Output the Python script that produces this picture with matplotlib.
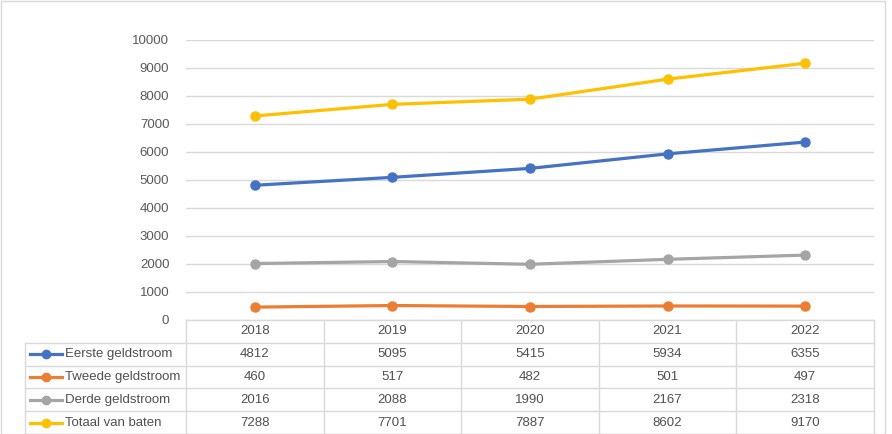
import matplotlib
matplotlib.use("Agg")
import matplotlib.pyplot as plt
from matplotlib.lines import Line2D
from matplotlib.patches import Rectangle

years = ["2018", "2019", "2020", "2021", "2022"]
series_names = ["Eerste geldstroom", "Tweede geldstroom", "Derde geldstroom", "Totaal van baten"]
eerste = [4812, 5095, 5415, 5934, 6355]
tweede = [460, 517, 482, 501, 497]
derde = [2016, 2088, 1990, 2167, 2318]
totaal = [7288, 7701, 7887, 8602, 9170]
colors = ["#4472C4", "#ED7D31", "#A5A5A5", "#FFC000"]
yticks = list(range(0, 10001, 1000))

all_series = [eerste, tweede, derde, totaal]

plt.rcParams['font.family'] = ['Liberation Sans', 'DejaVu Sans']
W, H = 892, 434
fig = plt.figure(figsize=(W / 100, H / 100), dpi=100)

def fx(px):
    return px / W

def fy(py):
    return 1 - py / H

left, right, top, bottom = 186, 874, 40, 320
ax = fig.add_axes([fx(left), fy(bottom), fx(right - left), (bottom - top) / H])
x = list(range(len(years)))
for vals, c in zip(all_series, colors):
    ax.plot(x, vals, color=c, lw=2.3, marker='o', markersize=6.5, solid_capstyle='round', zorder=3)
ax.set_xlim(-0.5, len(years) - 0.5)
ax.set_ylim(0, 10000)
ax.set_yticks(yticks)
ax.set_yticklabels([str(t) for t in yticks])
ax.yaxis.grid(True, color="#D9D9D9", lw=1)
ax.set_axisbelow(True)
ax.tick_params(axis='y', length=0, pad=12, labelsize=9.5, labelcolor="#595959")
ax.set_xticks([])
for s in ['top', 'right', 'left', 'bottom']:
    ax.spines[s].set_visible(False)
ax.patch.set_alpha(0)

# Data table
grid_c = "#D9D9D9"
txt_c = "#505050"
fs = 9.5
row_h = 22.8
label_left = 25
col_w = (right - left) / len(years)
rows_top = bottom
n_rows = len(series_names) + 1

def hline(x0, x1, y):
    fig.add_artist(Line2D([fx(x0), fx(x1)], [fy(y), fy(y)], color=grid_c, lw=1))

def vline(xp, y0, y1):
    fig.add_artist(Line2D([fx(xp), fx(xp)], [fy(y0), fy(y1)], color=grid_c, lw=1))

table_bottom = rows_top + row_h * n_rows
hline(left, right, rows_top)
for i in range(1, n_rows + 1):
    hline(label_left, right, rows_top + row_h * i)
vline(label_left, rows_top + row_h, table_bottom)
for j in range(len(years) + 1):
    vline(left + col_w * j, rows_top, table_bottom)

for j, yr in enumerate(years):
    fig.text(fx(left + col_w * (j + 0.5)), fy(rows_top + row_h * 0.5), yr,
             ha='center', va='center', fontsize=fs, color=txt_c)

for i, (name, vals, c) in enumerate(zip(series_names, all_series, colors)):
    yc = rows_top + row_h * (i + 1.5)
    fig.add_artist(Line2D([fx(30), fx(62)], [fy(yc), fy(yc)], color=c, lw=2.3))
    fig.add_artist(Line2D([fx(46)], [fy(yc)], color=c, marker='o', markersize=6, lw=0))
    fig.text(fx(65), fy(yc), name, ha='left', va='center', fontsize=fs, color=txt_c)
    for j, v in enumerate(vals):
        fig.text(fx(left + col_w * (j + 0.5)), fy(yc), str(v),
                 ha='center', va='center', fontsize=fs, color=txt_c)

# outer border
fig.add_artist(Rectangle((0.5 / W, 0.5 / H), 1 - 1.0 / W - 7 / W, 1 - 1.0 / H, transform=fig.transFigure,
                         fill=False, edgecolor="#D9D9D9", lw=1))

fig.savefig("out.png", dpi=100)
